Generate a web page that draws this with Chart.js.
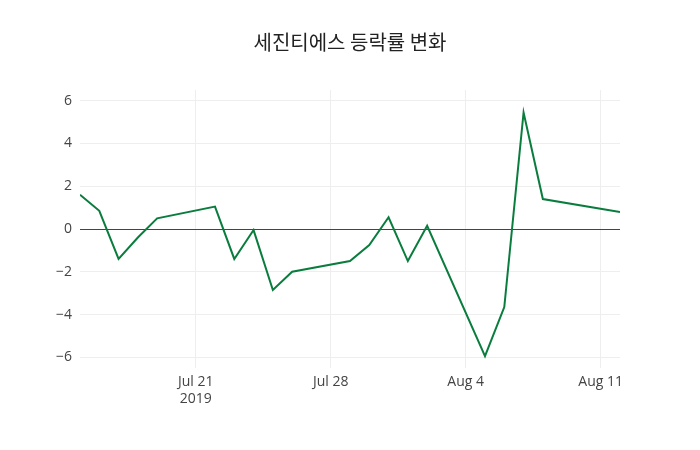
<!DOCTYPE html>
<html><head><meta charset="utf-8">
<script src="https://cdn.jsdelivr.net/npm/chart.js@4"></script>
<style>body{margin:0;background:#fff}</style></head>
<body><canvas id="c" width="700" height="450"></canvas>
<script>
const dates = ["2019-07-15","2019-07-16","2019-07-17","2019-07-18","2019-07-19","2019-07-22","2019-07-23","2019-07-24","2019-07-25","2019-07-26","2019-07-29","2019-07-30","2019-07-31","2019-08-01","2019-08-02","2019-08-05","2019-08-06","2019-08-07","2019-08-08","2019-08-12"];
const values = [1.6,0.85,-1.4,-0.4,0.5,1.05,-1.4,-0.05,-2.85,-2.0,-1.5,-0.75,0.55,-1.5,0.15,-5.95,-3.65,5.45,1.4,0.8];
const xTickDates = ["2019-07-21","2019-07-28","2019-08-04","2019-08-11"];
const xTickLabels = [["Jul 21","2019"],["Jul 28"],["Aug 4"],["Aug 11"]];
const yTicks = [-6,-4,-2,0,2,4,6];
const titleText = '세진티에스 등락률 변화';
const day = s => Date.parse(s+"T00:00:00Z")/86400000;
const d0 = day(dates[0]);
const pts = dates.map((d,i)=>({x:day(d)-d0,y:values[i]}));
const xt = xTickDates.map(d=>day(d)-d0);
const font = {family:"'Open Sans', 'Noto Sans CJK KR', sans-serif", size:14};
const titlePlugin = {id:'ctitle',afterDraw(ch){const c=ch.ctx;c.save();c.font="20px 'Noto Sans CJK KR', sans-serif";c.fillStyle='#222';c.textAlign='center';c.textBaseline='middle';c.fillText(titleText,ch.width/2,42);c.restore();}};
new Chart(document.getElementById('c'),{
 type:'line',
 data:{datasets:[{data:pts,borderColor:'#0a7d3e',borderWidth:2,pointRadius:0,tension:0,fill:false}]},
 plugins:[titlePlugin],
 options:{responsive:false,animation:false,
  layout:{padding:{left:0,right:80,top:90,bottom:0}},
  plugins:{legend:{display:false},tooltip:{enabled:false},title:{display:false}},
  scales:{
   x:{type:'linear',min:0,max:day("2019-08-12")-d0,
    afterBuildTicks:s=>{s.ticks=xt.map(v=>({value:v}));},
    afterFit:s=>{s.height=82;},
    ticks:{color:'#444',font,maxRotation:0,padding:6,callback:(v)=>{const i=xt.indexOf(v);return i>=0?xTickLabels[i]:'';}},
    grid:{color:'#eeeeee',drawTicks:false},border:{display:false}},
   y:{min:-6.5,max:6.5,
    afterBuildTicks:s=>{s.ticks=yTicks.map(v=>({value:v}));},
    afterFit:s=>{s.width=80;},
    ticks:{color:'#444',font,padding:8,callback:v=>v<0?'−'+Math.abs(v):String(v)},
    grid:{color:c=>c.tick&&c.tick.value===0?'#444':'#eeeeee',lineWidth:1,drawTicks:false},border:{display:false}}
  }}
});
</script></body></html>
